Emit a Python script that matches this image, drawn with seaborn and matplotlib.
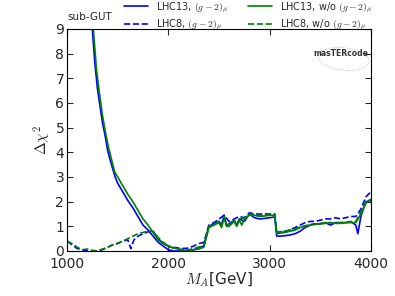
import numpy as np
import pandas as pd
import matplotlib
matplotlib.use("Agg")
import matplotlib.pyplot as plt
import seaborn as sns
from matplotlib.patches import Ellipse

# ---------------- data ----------------
x_lhc13_g2 = [1200, 1250, 1275, 1300, 1325, 1350, 1375, 1400, 1425, 1450, 1475, 1500, 1550, 1600,
              1650, 1700, 1750, 1800, 1850, 1900, 1950, 2000, 2050, 2100, 2150, 2200, 2250, 2300,
              2350, 2400, 2450, 2500, 2525, 2550, 2575, 2600, 2650, 2675, 2700, 2750, 2800, 2850,
              2900, 2950, 3000, 3050, 3070, 3100, 3150, 3200, 3250, 3300, 3350, 3400, 3450, 3500,
              3550, 3600, 3650, 3700, 3750, 3800, 3850, 3870, 3900, 3950, 4000]
y_lhc13_g2 = [12.5, 9.0, 7.6, 6.6, 5.9, 5.2, 4.7, 4.1, 3.7, 3.35, 3.0, 2.75, 2.4, 2.05,
              1.75, 1.4, 1.05, 0.85, 0.6, 0.35, 0.2, 0.05, 0.0, 0.0, 0.0, 0.0, 0.05, 0.15,
              0.2, 1.0, 1.1, 1.2, 1.05, 1.45, 1.05, 1.1, 1.25, 1.05, 1.3, 1.2, 1.5, 1.35,
              1.3, 1.32, 1.35, 1.38, 0.6, 0.6, 0.62, 0.65, 0.7, 0.8, 0.95, 1.05, 1.1, 1.1,
              1.15, 1.05, 1.15, 1.15, 1.15, 1.2, 1.05, 0.7, 1.4, 2.0, 2.05]

x_lhc13_nog2 = [1200, 1260, 1290, 1320, 1350, 1380, 1410, 1440, 1470, 1500, 1550, 1600, 1650,
                1700, 1750, 1800, 1850, 1900, 1950, 2000, 2050, 2100, 2150, 2200, 2250, 2300,
                2350, 2400, 2450, 2500, 2525, 2550, 2575, 2600, 2650, 2675, 2700, 2725, 2750,
                2800, 2850, 2900, 2950, 3000, 3050, 3070, 3100, 3150, 3200, 3250, 3300, 3350,
                3400, 3450, 3500, 3550, 3600, 3650, 3700, 3750, 3800, 3850, 3900, 3950, 4000]
y_lhc13_nog2 = [12.5, 9.0, 7.4, 6.4, 5.5, 4.8, 4.2, 3.7, 3.2, 3.0, 2.65, 2.3, 2.0,
                1.65, 1.3, 1.05, 0.75, 0.45, 0.3, 0.2, 0.12, 0.08, 0.03, 0.02, 0.05, 0.08,
                0.15, 0.95, 1.05, 1.15, 0.95, 1.35, 1.0, 1.0, 1.2, 1.0, 1.25, 1.05, 1.3,
                1.45, 1.45, 1.4, 1.42, 1.45, 1.45, 0.72, 0.72, 0.75, 0.8, 0.85, 0.95, 1.0,
                1.05, 1.08, 1.1, 1.12, 1.15, 1.12, 1.12, 1.15, 1.15, 1.15, 1.5, 1.95, 2.05]

x_lhc8_g2 = [1000, 1050, 1100, 1150, 1200, 1250, 1300, 1350, 1400, 1450, 1500, 1550, 1600, 1630,
             1660, 1700, 1750, 1800, 1850, 1900, 1950, 2000, 2050, 2100, 2150, 2200, 2250, 2300,
             2350, 2400, 2450, 2500, 2550, 2600, 2650, 2700, 2750, 2800, 2850, 2900, 2950, 3000,
             3050, 3070, 3100, 3150, 3200, 3250, 3300, 3350, 3400, 3450, 3500, 3550, 3600, 3650,
             3700, 3750, 3800, 3850, 3900, 3950, 4000]
y_lhc8_g2 = [0.4, 0.25, 0.1, 0.05, 0.0, 0.0, 0.0, 0.05, 0.15, 0.25, 0.3, 0.4, 0.45, 0.1,
             0.45, 0.6, 0.7, 0.78, 0.8, 0.5, 0.3, 0.2, 0.15, 0.12, 0.1, 0.12, 0.2, 0.3,
             0.35, 1.05, 1.15, 1.3, 1.45, 1.2, 1.3, 1.4, 1.35, 1.55, 1.5, 1.5, 1.5, 1.5,
             1.5, 0.75, 0.78, 0.8, 0.85, 0.95, 1.05, 1.15, 1.2, 1.2, 1.25, 1.3, 1.3, 1.35,
             1.3, 1.35, 1.4, 1.4, 1.7, 2.2, 2.4]

x_lhc8_nog2 = [1000, 1050, 1100, 1150, 1200, 1250, 1300, 1350, 1400, 1450, 1500, 1550, 1600,
               1650, 1700, 1750, 1800, 1850, 1900, 1950, 2000, 2050, 2100, 2150, 2200, 2250,
               2300, 2350, 2400, 2450, 2500, 2525, 2550, 2575, 2600, 2650, 2675, 2700, 2750,
               2800, 2850, 2900, 2950, 3000, 3050, 3070, 3100, 3150, 3200, 3250, 3300, 3350,
               3400, 3450, 3500, 3550, 3600, 3650, 3700, 3750, 3800, 3850, 3900, 3950, 4000]
y_lhc8_nog2 = [0.4, 0.3, 0.15, 0.05, 0.08, 0.03, 0.0, 0.08, 0.15, 0.25, 0.32, 0.4, 0.5,
               0.6, 0.7, 0.75, 0.8, 0.8, 0.55, 0.35, 0.2, 0.12, 0.08, 0.05, 0.05, 0.1,
               0.15, 0.2, 1.0, 1.1, 1.2, 1.0, 1.4, 1.05, 1.05, 1.25, 1.05, 1.3, 1.35,
               1.5, 1.45, 1.45, 1.45, 1.48, 1.48, 0.78, 0.78, 0.8, 0.85, 0.9, 0.98, 1.02,
               1.08, 1.1, 1.12, 1.15, 1.15, 1.12, 1.15, 1.15, 1.18, 1.2, 1.6, 2.0, 2.1]

labels = [r"LHC13, $(g-2)_\mu$", r"LHC8, $(g-2)_\mu$",
          r"LHC13, w/o $(g-2)_\mu$", r"LHC8, w/o $(g-2)_\mu$"]
x_ticks = [1000, 2000, 3000, 4000]
y_ticks = [0, 1, 2, 3, 4, 5, 6, 7, 8, 9]

# ---------------- plot ----------------
sns.set_style("white")
plt.rcParams["font.family"] = ["DejaVu Sans"]
plt.rcParams["mathtext.fontset"] = "cm"

fig = plt.figure(figsize=(3.95, 2.96), dpi=100)
ax = fig.add_axes([67/395, 45/296, 304/395, 222/296])

blue = "#0000ff"
green = "#008000"
series = [
    (x_lhc13_g2, y_lhc13_g2, blue, "-", labels[0]),
    (x_lhc8_g2, y_lhc8_g2, blue, "--", labels[1]),
    (x_lhc13_nog2, y_lhc13_nog2, green, "-", labels[2]),
    (x_lhc8_nog2, y_lhc8_nog2, green, "--", labels[3]),
]
for xs, ys, c, ls, lab in series:
    df = pd.DataFrame({"x": xs, "y": ys})
    sns.lineplot(data=df, x="x", y="y", ax=ax, color=c, linestyle=ls, lw=1.2,
                 label=lab, sort=False, estimator=None)

ax.set_xlim(1000, 4000)
ax.set_ylim(0, 9)
ax.set_xticks(x_ticks)
ax.set_yticks(y_ticks)
ax.tick_params(axis="both", direction="in", length=4, width=0.8, labelsize=10,
               top=True, right=True, bottom=True, left=True)
ax.tick_params(axis="x", pad=4)
ax.tick_params(axis="y", pad=2)
for s in ax.spines.values():
    s.set_color("black")
    s.set_linewidth(0.8)
ax.set_xlabel(r"$M_A$[GeV]", fontsize=11, labelpad=0)
ax.set_ylabel(r"$\Delta\chi^2$", fontsize=11, labelpad=2)

h, l = ax.get_legend_handles_labels()
ax.legend(h, l, ncol=2, frameon=False, fontsize=7, loc="center",
          bbox_to_anchor=(0.63, 1 - 16/296), bbox_transform=fig.transFigure,
          handlelength=2.4, columnspacing=2.0, handletextpad=0.9, labelspacing=0.3,
          borderpad=0.0)

fig.text(67/395, 1 - 17/296, "sub-GUT", fontsize=7.5, ha="left", va="center")

# logo
ax.text(0.9, 0.89, "masTERcode", transform=ax.transAxes, fontsize=5.5,
        ha="center", va="center", color="#333333", fontweight="bold")
ax.add_patch(Ellipse((0.91, 0.865), 0.17, 0.1, angle=-10, transform=ax.transAxes,
                     fill=False, ec="#999999", lw=0.5, ls=":"))

fig.savefig("out.png", dpi=100)
